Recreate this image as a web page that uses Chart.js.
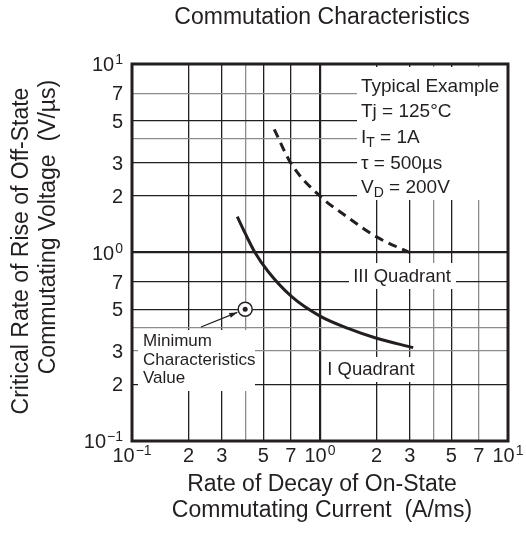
<!DOCTYPE html>
<html>
<head>
<meta charset="utf-8">
<script src="https://cdn.jsdelivr.net/npm/chart.js@4"></script>
<style>
  html, body { margin: 0; padding: 0; background: #fff; }
  #wrap { width: 526px; height: 553px; }
</style>
</head>
<body>
<div id="wrap"><canvas id="grafico" width="526" height="553"></canvas></div>
<script>
// valores de la grilla y etiquetas (log-log, 0.1 .. 10 en ambos ejes)
const gridValues = [0.1, 0.2, 0.3, 0.4, 0.5, 0.7, 1, 2, 3, 4, 5, 7, 10];
const labelValues = [0.1, 0.2, 0.3, 0.5, 0.7, 1, 2, 3, 5, 7, 10];
const tickLabels = ['10|−1', '2', '3', '5', '7', '10|0', '2', '3', '5', '7', '10|1'];

// curva I Quadrant (linea continua)
const quad1X = [0.363, 0.399, 0.451, 0.531, 0.707, 1.0, 1.41, 2.0, 3.13];
const quad1Y = [1.55, 1.27, 1.0, 0.79, 0.583, 0.46, 0.396, 0.351, 0.313];

// curva III Quadrant (linea punteada)
const quad3X = [0.571, 0.698, 1.0, 1.39, 2.0, 2.99];
const quad3Y = [4.5, 2.99, 1.99, 1.55, 1.21, 1.0];

// valor minimo caracteristico
const minX = [0.4];
const minY = [0.5];

const FONT = '"Liberation Sans", Arial, sans-serif';
const INK = '#231f20';
const GRAY = '#8c8c8c';

function puntos(xs, ys) {
    return xs.map((x, i) => ({ x: x, y: ys[i] }));
}

function colorGrilla(grises) {
    return function (c) {
        const v = c.tick ? c.tick.value : 0;
        return grises.some(g => Math.abs(g - v) < 1e-9) ? GRAY : INK;
    };
}

function anchoGrilla(c) {
    const v = c.tick ? c.tick.value : 0;
    if (Math.abs(v - 1) < 1e-9) return 2.2;
    return 1.3;
}

// dibuja "10" con exponente
function etiquetaPot(ctx, texto, x, y, align) {
    const partes = texto.split('|');
    ctx.font = '20px ' + FONT;
    const wBase = ctx.measureText(partes[0]).width;
    let wSup = 0;
    if (partes[1]) {
        ctx.font = '14px ' + FONT;
        wSup = ctx.measureText(partes[1]).width + 1;
    }
    const total = wBase + wSup;
    const x0 = align === 'right' ? x - total : x - total / 2;
    ctx.textAlign = 'left';
    ctx.textBaseline = 'alphabetic';
    ctx.font = '20px ' + FONT;
    ctx.fillText(partes[0], x0, y + 7);
    if (partes[1]) {
        ctx.font = '14px ' + FONT;
        ctx.fillText(partes[1], x0 + wBase + 1, y);
    }
}

// texto con subindices: [[texto, tamaño, desplazamiento], ...]
function textoCompuesto(ctx, segs, x, y) {
    let cx = x;
    ctx.textAlign = 'left';
    ctx.textBaseline = 'alphabetic';
    segs.forEach(s => {
        ctx.font = s[1] + 'px ' + FONT;
        ctx.fillText(s[0], cx, y + s[2]);
        cx += ctx.measureText(s[0]).width;
    });
}

const cajas = [
    [357, 67, 507, 200],   // condiciones
    [349, 263, 456, 289],  // III Quadrant
    [325, 357, 418, 382],  // I Quadrant
    [138, 330, 255, 391]   // Minimum Characteristics Value
];

const textos = {
    id: 'textos',
    beforeDatasetsDraw(chart) {
        const ctx = chart.ctx;
        ctx.save();
        ctx.fillStyle = '#fff';
        cajas.forEach(b => ctx.fillRect(b[0], b[1], b[2] - b[0], b[3] - b[1]));
        ctx.restore();
    },
    afterDraw(chart) {
        const ctx = chart.ctx;
        const a = chart.chartArea;
        const sx = chart.scales.x;
        const sy = chart.scales.y;
        ctx.save();

        // marco
        ctx.strokeStyle = INK;
        ctx.lineWidth = 3;
        ctx.strokeRect(a.left, a.top, a.right - a.left, a.bottom - a.top);

        ctx.fillStyle = INK;

        // etiquetas de los ejes
        labelValues.forEach((v, i) => {
            etiquetaPot(ctx, tickLabels[i], sx.getPixelForValue(v), a.bottom + 14, 'center');
            etiquetaPot(ctx, tickLabels[i], a.left - 9, sy.getPixelForValue(v), 'right');
        });

        // titulo
        ctx.textAlign = 'center';
        ctx.textBaseline = 'middle';
        ctx.font = '23px ' + FONT;
        ctx.fillText('Commutation Characteristics', 322, 18);

        // titulo eje x
        ctx.fillText('Rate of Decay of On-State', 322, 485);
        ctx.fillText('Commutating Current  (A/ms)', 322, 511);

        // titulo eje y
        ctx.save();
        ctx.translate(22, 251);
        ctx.rotate(-Math.PI / 2);
        ctx.fillText('Critical Rate of Rise of Off-State', 0, 0);
        ctx.restore();
        ctx.save();
        ctx.translate(49, 227);
        ctx.rotate(-Math.PI / 2);
        ctx.fillText('Commutating Voltage  (V/µs)', 0, 0);
        ctx.restore();

        // condiciones
        const lx = 361;
        textoCompuesto(ctx, [['Typical Example', 19, 0]], lx, 92);
        textoCompuesto(ctx, [['Tj = 125°C', 19, 0]], lx, 117);
        textoCompuesto(ctx, [['I', 19, 0], ['T', 14, 4], [' = 1A', 19, 0]], lx, 143);
        textoCompuesto(ctx, [['τ = 500µs', 19, 0]], lx, 169);
        textoCompuesto(ctx, [['V', 19, 0], ['D', 14, 4], [' = 200V', 19, 0]], lx, 193);

        // cuadrantes
        ctx.textAlign = 'center';
        ctx.textBaseline = 'middle';
        ctx.font = '18.5px ' + FONT;
        ctx.fillText('III Quadrant', 402, 277);
        ctx.fillText('I Quadrant', 371, 370);

        // valor minimo
        ctx.textAlign = 'left';
        ctx.font = '17px ' + FONT;
        ctx.fillText('Minimum', 143, 341);
        ctx.fillText('Characteristics', 143, 360);
        ctx.fillText('Value', 143, 378);

        // flecha
        const px = sx.getPixelForValue(minX[0]);
        const py = sy.getPixelForValue(minY[0]);
        const x0 = 201, y0 = 327;
        const dx = px - x0, dy = py - y0;
        const len = Math.sqrt(dx * dx + dy * dy);
        const ux = dx / len, uy = dy / len;
        const ex = px - ux * 8.5, ey = py - uy * 8.5;
        ctx.strokeStyle = INK;
        ctx.lineWidth = 1.2;
        ctx.beginPath();
        ctx.moveTo(x0, y0);
        ctx.lineTo(ex, ey);
        ctx.stroke();
        ctx.beginPath();
        ctx.moveTo(ex, ey);
        ctx.lineTo(ex - ux * 8 - uy * 2.5, ey - uy * 8 + ux * 2.5);
        ctx.lineTo(ex - ux * 8 + uy * 2.5, ey - uy * 8 - ux * 2.5);
        ctx.closePath();
        ctx.fill();

        ctx.restore();
    }
};

const ctx = document.getElementById('grafico').getContext('2d');
const myChart = new Chart(ctx, {
    type: 'line',
    data: {
        datasets: [
            {
                label: 'dot',
                data: puntos(minX, minY),
                showLine: false,
                pointRadius: 2.5,
                pointBackgroundColor: INK,
                pointBorderWidth: 0,
                order: 0
            },
            {
                label: 'Minimum Characteristics Value',
                data: puntos(minX, minY),
                showLine: false,
                pointRadius: 7,
                pointBackgroundColor: '#fff',
                pointBorderColor: INK,
                pointBorderWidth: 1.5,
                order: 1
            },
            {
                label: 'I Quadrant',
                data: puntos(quad1X, quad1Y),
                borderColor: INK,
                borderWidth: 3,
                pointRadius: 0,
                cubicInterpolationMode: 'monotone',
                order: 2
            },
            {
                label: 'III Quadrant',
                data: puntos(quad3X, quad3Y),
                borderColor: INK,
                borderWidth: 3,
                borderDash: [9, 6],
                pointRadius: 0,
                cubicInterpolationMode: 'monotone',
                order: 3
            }
        ]
    },
    options: {
        responsive: false,
        animation: false,
        devicePixelRatio: 1,
        layout: { padding: { left: 132, right: 18, top: 64, bottom: 112 } },
        plugins: {
            legend: { display: false },
            tooltip: { enabled: false },
            title: { display: false }
        },
        scales: {
            x: {
                type: 'logarithmic',
                min: 0.1,
                max: 10,
                afterBuildTicks: (scale) => { scale.ticks = gridValues.map(v => ({ value: v })); },
                ticks: { display: false },
                border: { display: false },
                grid: {
                    drawTicks: false,
                    color: colorGrilla([0.4, 4, 7]),
                    lineWidth: anchoGrilla
                }
            },
            y: {
                type: 'logarithmic',
                min: 0.1,
                max: 10,
                afterBuildTicks: (scale) => { scale.ticks = gridValues.map(v => ({ value: v })); },
                ticks: { display: false },
                border: { display: false },
                grid: {
                    drawTicks: false,
                    color: colorGrilla([0.3, 0.4, 4, 7]),
                    lineWidth: anchoGrilla
                }
            }
        }
    },
    plugins: [textos]
});
</script>
</body>
</html>
